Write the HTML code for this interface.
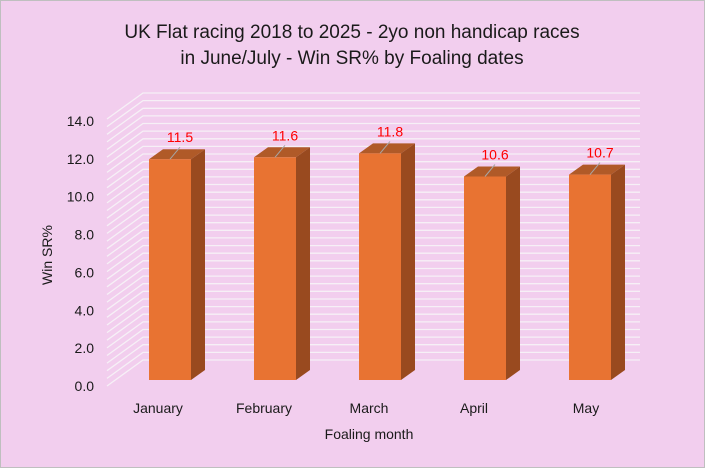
<!DOCTYPE html><html><head><style>body{margin:0;background:#fff}</style></head><body>
<svg width="705" height="468" xmlns="http://www.w3.org/2000/svg" font-family="Liberation Sans, sans-serif">
<rect x="0.5" y="0.5" width="704" height="467" fill="#F2CEEE" stroke="#BFBFBF"/>
<text x="352" y="38" text-anchor="middle" font-size="19" fill="#1a1a1a">UK Flat racing 2018 to 2025 - 2yo non handicap races</text>
<text x="352" y="64" text-anchor="middle" font-size="19" fill="#1a1a1a">in June/July - Win SR% by Foaling dates</text>
<path stroke="#F6F0F6" stroke-width="1.3" fill="none" d="
M107,386l36,-26h497 M107,378.4l36,-26h497 M107,370.7l36,-26h497 M107,363.1l36,-26h497 M107,355.5l36,-26h497 M107,347.9l36,-26h497
M107,340.2l36,-26h497 M107,332.6l36,-26h497 M107,325l36,-26h497 M107,317.3l36,-26h497 M107,309.7l36,-26h497 M107,302.1l36,-26h497
M107,294.5l36,-26h497 M107,286.8l36,-26h497 M107,279.2l36,-26h497 M107,271.6l36,-26h497 M107,263.9l36,-26h497 M107,256.3l36,-26h497
M107,248.7l36,-26h497 M107,241.1l36,-26h497 M107,233.4l36,-26h497 M107,225.8l36,-26h497 M107,218.2l36,-26h497 M107,210.5l36,-26h497
M107,202.9l36,-26h497 M107,195.3l36,-26h497 M107,187.7l36,-26h497 M107,180l36,-26h497 M107,172.4l36,-26h497 M107,164.8l36,-26h497
M107,157.1l36,-26h497 M107,149.5l36,-26h497 M107,141.9l36,-26h497 M107,134.3l36,-26h497 M107,126.6l36,-26h497 M107,119l36,-26h497"/>
<g font-size="14" fill="#1a1a1a" text-anchor="end">
<text x="94" y="391">0.0</text><text x="94" y="353.1">2.0</text><text x="94" y="315.3">4.0</text><text x="94" y="277.4">6.0</text>
<text x="94" y="239.6">8.0</text><text x="94" y="201.7">10.0</text><text x="94" y="163.8">12.0</text><text x="94" y="126">14.0</text></g>
<text transform="translate(52,255) rotate(-90)" text-anchor="middle" font-size="14" fill="#1a1a1a">Win SR%</text>
<g font-size="14" fill="#FF0000" text-anchor="middle">
<polygon points="149,159.2 163,149.2 205,149.2 191,159.2" fill="#B05A28"/>
<polygon points="191,159.2 205,149.2 205,370 191,380" fill="#994A1F"/>
<rect x="149" y="159.2" width="42" height="220.8" fill="#E87332"/>
<line x1="170" y1="159.2" x2="180" y2="147.2" stroke="#A6A6A6"/><text x="180" y="142.2">11.5</text>
<polygon points="254,157.3 268,147.3 310,147.3 296,157.3" fill="#B05A28"/>
<polygon points="296,157.3 310,147.3 310,370 296,380" fill="#994A1F"/>
<rect x="254" y="157.3" width="42" height="222.7" fill="#E87332"/>
<line x1="275" y1="157.3" x2="285" y2="145.3" stroke="#A6A6A6"/><text x="285" y="140.3">11.6</text>
<polygon points="359,153.4 373,143.4 415,143.4 401,153.4" fill="#B05A28"/>
<polygon points="401,153.4 415,143.4 415,370 401,380" fill="#994A1F"/>
<rect x="359" y="153.4" width="42" height="226.6" fill="#E87332"/>
<line x1="380" y1="153.4" x2="390" y2="141.4" stroke="#A6A6A6"/><text x="390" y="136.4">11.8</text>
<polygon points="464,176.5 478,166.5 520,166.5 506,176.5" fill="#B05A28"/>
<polygon points="506,176.5 520,166.5 520,370 506,380" fill="#994A1F"/>
<rect x="464" y="176.5" width="42" height="203.5" fill="#E87332"/>
<line x1="485" y1="176.5" x2="495" y2="164.5" stroke="#A6A6A6"/><text x="495" y="159.5">10.6</text>
<polygon points="569,174.6 583,164.6 625,164.6 611,174.6" fill="#B05A28"/>
<polygon points="611,174.6 625,164.6 625,370 611,380" fill="#994A1F"/>
<rect x="569" y="174.6" width="42" height="205.4" fill="#E87332"/>
<line x1="590" y1="174.6" x2="600" y2="162.6" stroke="#A6A6A6"/><text x="600" y="157.6">10.7</text>
</g>
<g font-size="14" fill="#1a1a1a" text-anchor="middle">
<text x="158" y="413">January</text><text x="264" y="413">February</text><text x="369" y="413">March</text><text x="474" y="413">April</text><text x="586" y="413">May</text>
<text x="369" y="439">Foaling month</text></g>
</svg></body></html>
